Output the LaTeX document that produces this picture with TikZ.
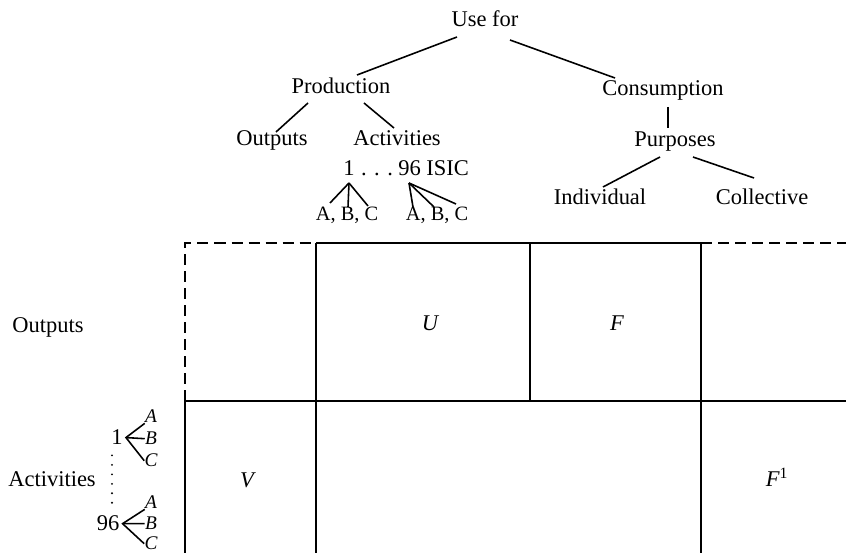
\documentclass[tikz,border=0pt]{standalone}
\usepackage{fontspec}
\setmainfont{Liberation Serif}
\usetikzlibrary{calc}
\tikzset{
  lbl/.style={inner sep=0pt,anchor=base,font=\fontsize{12.8}{15}\selectfont},
  sublbl/.style={inner sep=0pt,anchor=base,font=\fontsize{11.6}{14}\selectfont},
  idx/.style={inner sep=0pt,anchor=base,font=\fontsize{11}{13}\selectfont\itshape},
  cell/.style={inner sep=0pt,font=\fontsize{12.8}{15}\selectfont\itshape},
  branch/.style={line width=0.9pt},
  rule/.style={line width=0.85pt},
  openrule/.style={line width=0.85pt,dash pattern=on 6.3pt off 3.4pt},
  dotcol/.style={line width=1.2pt,line cap=round,dash pattern=on 0pt off 5.4pt},
}

\begin{document}
\begin{tikzpicture}[x=0.02cm,y=-0.02cm]
\useasboundingbox (0,0) rectangle (846,553);

% classification of uses
\node[lbl] (usefor) at (485,27) {Use for};
\node[lbl] (prod) at (341,94) {Production};
\node[lbl] (cons) at (663,96) {Consumption};
\node[lbl] (outT) at (272,146) {Outputs};
\node[lbl] (actT) at (397,146) {Activities};
\node[lbl] (purp) at (675,147) {Purposes};
\node[lbl] (indiv) at (600,205) {Individual};
\node[lbl] (coll) at (762,205) {Collective};
\node[lbl] (one) at (349,176) {1};
\node[lbl] (dotsT) at (377,176) {. . .};
\node[lbl,anchor=base west] (isic) at (398,176) {96 ISIC};
\node[sublbl] (abcL) at (347,221) {A, B, C};
\node[sublbl] (abcR) at (437,221) {A, B, C};

\draw[branch] ($(usefor.base)+(-28,10)$) -- ($(prod.base)+(16,-19)$);
\draw[branch] ($(usefor.base)+(25,13)$) -- ($(cons.base)+(-48,-18)$);
\draw[branch] ($(prod.base)+(-33,9)$) -- ($(outT.base)+(4,-14)$);
\draw[branch] ($(prod.base)+(23,9)$) -- ($(actT.base)+(-3,-18)$);
\draw[branch] ($(cons.base)+(5,11)$) -- ($(purp.base)+(-7,-19)$);
\draw[branch] ($(purp.base)+(-15,10)$) -- ($(indiv.base)+(3,-18)$);
\draw[branch] ($(purp.base)+(18,10)$) -- ($(coll.base)+(-8,-27)$);

\coordinate (oneFan) at ($(one.base)+(0,7)$);
\coordinate (isicFan) at ($(isic.base west)+(11,7)$);
\draw[branch] (oneFan) -- ($(abcL.base)+(-17,-18)$);
\draw[branch] (oneFan) -- ($(abcL.base)+(1,-14)$);
\draw[branch] (oneFan) -- ($(abcL.base)+(21,-15)$);
\draw[branch] (isicFan) -- ($(abcR.base)+(-24,-14)$);
\draw[branch] (isicFan) -- ($(abcR.base)+(-3,-14)$);
\draw[branch] (isicFan) -- ($(abcR.base)+(19,-17)$);

% row labels
\node[lbl] (outL) at (48,333) {Outputs};
\node[lbl] (actL) at (52,487) {Activities};
\node[lbl] (lOne) at (117,445) {1};
\node[idx] (lA1) at (151,423) {A};
\node[idx] (lB1) at (151,445) {B};
\node[idx] (lC1) at (151,467) {C};
\node[lbl] (l96) at (108,531) {96};
\node[idx] (lA2) at (151,509) {A};
\node[idx] (lB2) at (151,530) {B};
\node[idx] (lC2) at (151,550) {C};

\draw[branch] (lA1.south west) -- ($(lOne.east)+(3,0)$) -- (lC1.west);
\draw[branch] ($(lOne.east)+(3,0)$) -- (lB1.west);
\draw[branch] (lA2.south west) -- ($(l96.east)+(3,0)$) -- (lC2.west);
\draw[branch] ($(l96.east)+(3,0)$) -- (lB2.west);
\draw[dotcol] ($(lOne.south)+(-5,10)$) -- ($(l96.north)+(4,-8)$);

% accounting frame
\draw[openrule] (185,401) -- (185,243) -- (316,243);
\draw[openrule] (701,243) -- (846,243);
\draw[rule] (316,243) -- (701,243);
\draw[rule] (185,401) -- (846,401);
\draw[rule] (185,401) -- (185,553);
\draw[rule] (316,243) -- (316,553);
\draw[rule] (530,243) -- (530,401);
\draw[rule] (701,243) -- (701,553);

\node[cell] (U) at (430,323) {U};
\node[cell] (F) at (617,323) {F};
\node[cell] (V) at (247,480) {V};
\node[cell] (F1) at (777,477) {F\textsuperscript{\upshape 1}};
\end{tikzpicture}
\end{document}
